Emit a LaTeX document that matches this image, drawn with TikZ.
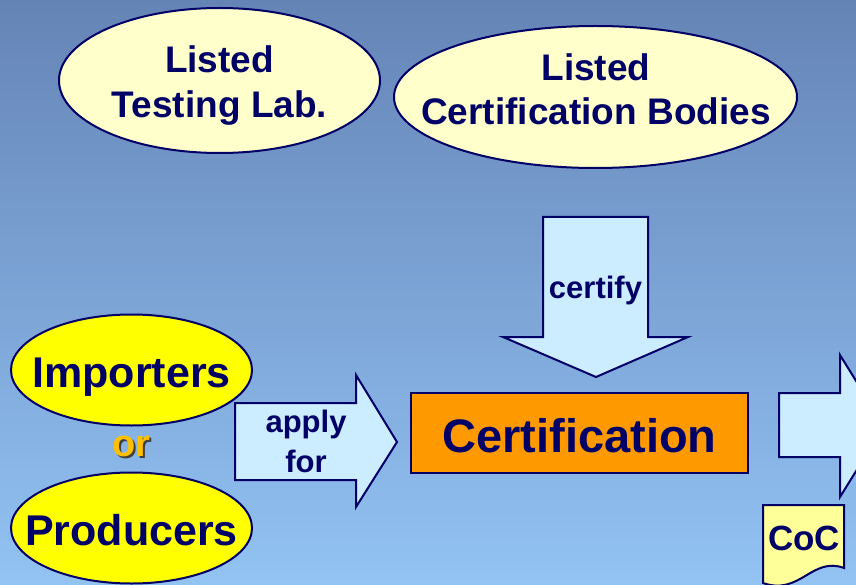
\documentclass[tikz,border=0pt]{standalone}
\usepackage{fontspec}
\setmainfont{Liberation Sans}
\usetikzlibrary{shapes.geometric}
\definecolor{navy}{HTML}{000066}
\definecolor{bgtop}{HTML}{6584B6}
\definecolor{bgbot}{HTML}{92C3F3}
\definecolor{paleyellow}{HTML}{FFFFCC}
\definecolor{brightyellow}{HTML}{FFFF00}
\definecolor{paleblue}{HTML}{CCECFF}
\definecolor{certorange}{HTML}{FF9900}
\definecolor{docyellow}{HTML}{FFFF99}
\definecolor{orgold}{HTML}{FFC000}
\tikzset{
  outline/.style={draw=navy, line width=2pt, line join=miter},
  oval/.style={ellipse, outline, inner sep=0pt},
  label37/.style={anchor=base, text=navy, font=\fontsize{37}{44}\selectfont\bfseries, inner sep=0pt},
  label31/.style={anchor=base, text=navy, font=\fontsize{31}{40}\selectfont\bfseries, inner sep=0pt},
  label43/.style={anchor=base, text=navy, font=\fontsize{43}{50}\selectfont\bfseries, inner sep=0pt},
}
\begin{document}
\begin{tikzpicture}[x=1pt,y=-1pt]
\useasboundingbox (0,0) rectangle (856,585);
\clip (0,0) rectangle (856,585);
\shade[top color=bgtop, bottom color=bgbot] (0,0) rectangle (856,585);

% top ellipses
\node[oval, fill=paleyellow, minimum width=321pt, minimum height=145pt] (lab) at (219.5,80.5) {};
\node[label37] (labA) at (219.5,73) {Listed};
\node[label37] (labB) at (219.5,118) {Testing Lab.};

\node[oval, fill=paleyellow, minimum width=403pt, minimum height=142pt] (cb) at (595.5,97) {};
\node[label37] (cbA) at (596,81) {Listed};
\node[label37] (cbB) at (596,125) {Certification Bodies};

% certify arrow
\draw[outline, fill=paleblue] (543,217) -- (648,217) -- (648,337) -- (688,337) -- (596,377) -- (503,337) -- (543,337) -- cycle;
\node[label31] (certify) at (595.5,298) {certify};

% certification box
\node[outline, fill=certorange, minimum width=337pt, minimum height=80pt, inner sep=0pt] (cert) at (579.5,433) {};
\node[anchor=base, text=navy, font=\fontsize{47}{52}\selectfont\bfseries, inner sep=0pt] (certT) at (579.5,452) {Certification};

% importers / producers
\node[oval, fill=brightyellow, minimum width=241pt, minimum height=111pt] (imp) at (131.5,370) {};
\node[label43] (impT) at (131.5,387) {Importers};
\node[oval, fill=brightyellow, minimum width=241pt, minimum height=111pt] (prod) at (131.5,528) {};
\node[label43] (prodT) at (131.5,545) {Producers};
\node[anchor=base, font=\fontsize{38}{40}\selectfont\bfseries, inner sep=0pt] (or) at (131.5,456)
  {\makebox[0pt][l]{\hspace{2pt}\raisebox{-2pt}{\color{black!75}or}}\color{orgold}or};

% apply for arrow
\draw[outline, fill=paleblue] (235,403) -- (356,403) -- (356,375) -- (397,442) -- (356,507) -- (356,480) -- (235,480) -- cycle;
\node[label31] (apply) at (306,432) {apply};
\node[label31] (for) at (306,472) {for};

% right arrow
\draw[outline, fill=paleblue] (779,393) -- (840,393) -- (840,355) -- (884,426) -- (840,497) -- (840,457) -- (779,457) -- cycle;

% CoC document
\draw[outline, fill=docyellow] (763,505) -- (844,505) -- (844,568) .. controls (812,556) and (800,596) .. (763,583) -- cycle;
\node[anchor=base, text=navy, font=\fontsize{35}{38}\selectfont\bfseries, inner sep=0pt] (coc) at (804,550) {CoC};
\end{tikzpicture}
\end{document}
